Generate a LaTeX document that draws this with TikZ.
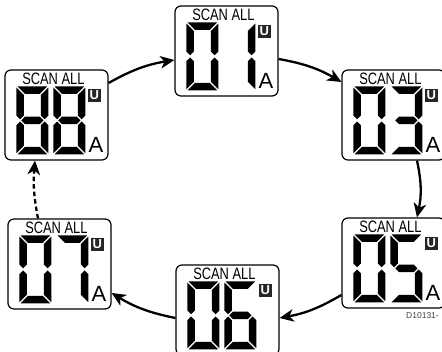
\documentclass[tikz,border=0pt]{standalone}
\usepackage{fontspec}
\setmainfont{Liberation Sans}
\usetikzlibrary{arrows.meta}

% segment outlines of a 32 x 68 digit, thickness 7.5, gap 1.2 (origin: top left)
\newcommand\SgA{\fill (1.2,0) -- (30.8,0) -- (23.3,-7.5) -- (8.7,-7.5) -- cycle;}
\newcommand\SgD{\fill (1.2,-68) -- (30.8,-68) -- (23.3,-60.5) -- (8.7,-60.5) -- cycle;}
\newcommand\SgF{\fill (0,-1.2) -- (7.5,-8.7) -- (7.5,-29.05) -- (3.75,-32.8) -- (0,-29.05) -- cycle;}
\newcommand\SgB{\fill (32,-1.2) -- (24.5,-8.7) -- (24.5,-29.05) -- (28.25,-32.8) -- (32,-29.05) -- cycle;}
\newcommand\SgE{\fill (0,-66.8) -- (7.5,-59.3) -- (7.5,-38.95) -- (3.75,-35.2) -- (0,-38.95) -- cycle;}
\newcommand\SgC{\fill (32,-66.8) -- (24.5,-59.3) -- (24.5,-38.95) -- (28.25,-35.2) -- (32,-38.95) -- cycle;}
\newcommand\SgG{\fill (4.95,-34) -- (8.7,-30.25) -- (23.3,-30.25) -- (27.05,-34) -- (23.3,-37.75) -- (8.7,-37.75) -- cycle;}

\newcommand\DgZero{\SgA\SgB\SgC\SgD\SgE\SgF}
\newcommand\DgOne{\SgB\SgC}
\newcommand\DgThree{\SgA\SgB\SgG\SgC\SgD}
\newcommand\DgFive{\SgA\SgF\SgG\SgC\SgD}
\newcommand\DgSix{\SgA\SgF\SgG\SgE\SgC\SgD}
\newcommand\DgSeven{\SgA\SgB\SgC}
\newcommand\DgEight{\SgA\SgB\SgC\SgD\SgE\SgF\SgG}

\tikzset{
  lcdbox/.style={draw=black, line width=1.2pt, rounded corners=6pt, minimum width=103pt, minimum height=90pt, inner sep=0pt},
  scantext/.style={inner sep=0pt, anchor=base, font=\fontsize{16.5}{16.5}\selectfont},
  ubox/.style={fill=black!85, text=white, minimum size=13.5pt, inner sep=0pt, font=\fontsize{13}{13}\selectfont\bfseries},
  atext/.style={inner sep=0pt, anchor=base, font=\fontsize{22}{22}\selectfont},
  flow/.style={line width=2.3pt, -{Stealth[length=14pt,width=12.5pt,inset=4pt]}},
  flowdash/.style={flow, dash pattern=on 4.5pt off 3pt}
}

% #1 name, #2 centre, #3 first digit, #4 second digit, #5 extra (the A)
\newcommand\lcdpanel[5]{%
  \node[lcdbox] (#1) at (#2) {};
  \begin{scope}[shift={(#1.north west)}]
    \node[scantext] (#1-s) at (49,-15) {\scalebox{0.78}[1]{SCAN ALL}};
    \begin{scope}[shift={(12,-17)}] #3 \end{scope}
    \begin{scope}[shift={(49,-17)}] #4 \end{scope}
    \node[ubox] (#1-u) at (90,-26) {U};
    #5
  \end{scope}}

\begin{document}
\begin{tikzpicture}[x=1pt,y=1pt]
  \useasboundingbox (0,0) rectangle (442,352);
  \clip (0,0) rectangle (442,352);

  \lcdpanel{b88}{56.5,237}{\DgEight}{\DgEight}{\node[atext] (b88-a) at (91.5,-83) {A};}
  \lcdpanel{b01}{226.5,301}{\DgZero}{\DgOne}{\node[atext] (b01-a) at (91.5,-83) {A};}
  \lcdpanel{b03}{393.5,237}{\DgZero}{\DgThree}{\node[atext] (b03-a) at (91.5,-83) {A};}
  \lcdpanel{b05}{393.5,89}{\DgZero}{\DgFive}{\node[atext] (b05-a) at (91.5,-83) {A};}
  \lcdpanel{b06}{227.5,42}{\DgZero}{\DgSix}{}
  \lcdpanel{b07}{59.5,88}{\DgZero}{\DgSeven}{\node[atext] (b07-a) at (91.5,-83) {A};}

  \node[anchor=base west, inner sep=0pt, text=black!75, font=\fontsize{8.5}{8.5}\selectfont] (lbl) at (406,33) {D10131-};

  \draw[flow] ([yshift=32pt]b88.east) to[bend left=10] ([yshift=-9pt]b01.west);
  \draw[flow] ([yshift=-8pt]b01.east) to[bend left=10] ([yshift=33pt]b03.west);
  \draw[flow] ([xshift=23.5pt]b03.south) to[bend left=12] ([xshift=23.5pt]b05.north);
  \draw[flow] ([yshift=-32pt]b05.west) to[bend left=10] ([yshift=-8pt]b06.east);
  \draw[flow] ([yshift=-8pt]b06.west) to[bend left=10] ([yshift=-29pt]b07.east);
  \draw[flowdash] ([xshift=-21.5pt]b07.north) to[bend left=8] ([xshift=-21.5pt]b88.south);
\end{tikzpicture}
\end{document}
